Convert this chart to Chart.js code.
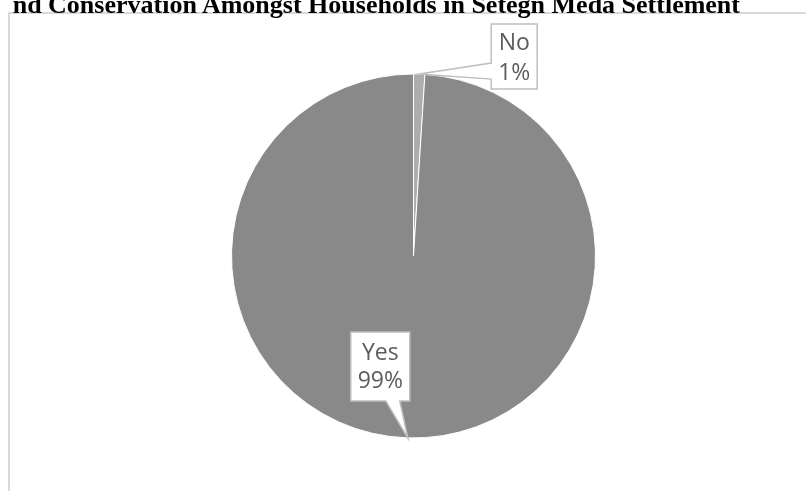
<!DOCTYPE html>
<html>
<head>
<meta charset="utf-8">
<script src="https://cdn.jsdelivr.net/npm/chart.js@4/dist/chart.umd.min.js"></script>
<style>
  html, body { margin: 0; padding: 0; background: #ffffff; }
  #page { position: relative; width: 806px; height: 491px; overflow: hidden; background: #ffffff; }
  #frame { position: absolute; left: 8px; top: 12px; width: 900px; height: 600px; border: 2px solid #d9d9d9; }
  #title {
    position: absolute; right: 66px; top: -8px; white-space: nowrap;
    font-family: "Liberation Serif", "Times New Roman", serif; font-weight: bold;
    font-size: 26px; line-height: 26px; color: #000000;
  }
  #pie { position: absolute; left: 0; top: 0; }
</style>
</head>
<body>
<div id="page">
  <div id="frame"></div>
  <canvas id="pie" width="806" height="491"></canvas>
  <div id="title">nd Conservation Amongst Households in Setegn Meda Settlement</div>
</div>
<script>
// survey answers
var answerLabels = ["No", "Yes"];
var answerValues = [1, 99];
var sliceColors = ["#adadad", "#898989"];

// callout box for each slice, placed relative to the point on the rim
var calloutBoxes = [
  { dx: 72, dy: -50, w: 46, h: 65, side: "left", w1: 39, w2: 55, line1: 19, line2: 49 },
  { dx: -57, dy: -106, w: 59, h: 69, side: "bottom", w1: 35, w2: 49, line1: 22, line2: 50 }
];

var calloutPlugin = {
  id: "callouts",
  afterDatasetsDraw: function(chart) {
    var ctx = chart.ctx;
    var meta = chart.getDatasetMeta(0);
    var total = answerValues.reduce(function(a, b) { return a + b; }, 0);
    meta.data.forEach(function(arc, i) {
      var p = arc.getProps(["x", "y", "startAngle", "endAngle", "outerRadius"], true);
      var mid = (p.startAngle + p.endAngle) / 2;
      var ax = p.x + Math.cos(mid) * p.outerRadius;
      var ay = p.y + Math.sin(mid) * p.outerRadius;
      var c = calloutBoxes[i];
      var left = ax + c.dx, top = ay + c.dy;
      var right = left + c.w, bottom = top + c.h;

      ctx.save();
      ctx.beginPath();
      if (c.side == "left") {
        ctx.moveTo(left, top);
        ctx.lineTo(right, top);
        ctx.lineTo(right, bottom);
        ctx.lineTo(left, bottom);
        ctx.lineTo(left, top + c.w2);
        ctx.lineTo(ax, ay);
        ctx.lineTo(left, top + c.w1);
      } else {
        ctx.moveTo(left, top);
        ctx.lineTo(right, top);
        ctx.lineTo(right, bottom);
        ctx.lineTo(left + c.w2, bottom);
        ctx.lineTo(ax, ay);
        ctx.lineTo(left + c.w1, bottom);
        ctx.lineTo(left, bottom);
      }
      ctx.closePath();
      ctx.fillStyle = "#ffffff";
      ctx.fill();
      ctx.lineWidth = 1.5;
      ctx.strokeStyle = "#bfbfbf";
      ctx.stroke();

      ctx.fillStyle = "#5c5c5c";
      ctx.font = "23px 'Open Sans', sans-serif";
      ctx.textAlign = "center";
      ctx.textBaseline = "middle";
      var cx = left + c.w / 2;
      ctx.fillText(answerLabels[i], cx, top + c.line1);
      ctx.fillText(Math.round(answerValues[i] / total * 100) + "%", cx, top + c.line2);
      ctx.restore();
    });
  }
};

var pieChart = new Chart(document.getElementById("pie").getContext("2d"), {
  type: "pie",
  data: {
    labels: answerLabels,
    datasets: [{
      data: answerValues,
      backgroundColor: sliceColors,
      borderColor: "#ffffff",
      borderWidth: 1,
      hoverOffset: 0
    }]
  },
  options: {
    responsive: false,
    animation: false,
    layout: { padding: { top: 73, bottom: 52, left: 231, right: 210 } },
    plugins: {
      legend: { display: false },
      tooltip: { enabled: false }
    }
  },
  plugins: [calloutPlugin]
});
</script>
</body>
</html>
